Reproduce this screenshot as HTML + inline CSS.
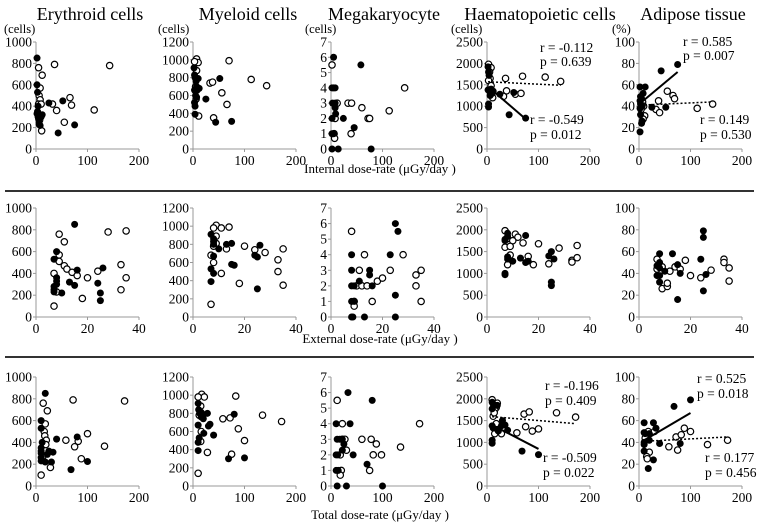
<!DOCTYPE html>
<html><head><meta charset="utf-8"><style>
html,body{margin:0;padding:0;background:#fff;}
svg text{font-family:"Liberation Serif",serif;fill:#000;}
</style></head><body>
<svg id="fig" width="760" height="527" viewBox="0 0 760 527" xmlns="http://www.w3.org/2000/svg" font-family="Liberation Serif, serif">
<g>
<text x="90" y="20" text-anchor="middle" style="font-size:18px">Erythroid cells</text>
<text x="248" y="20" text-anchor="middle" style="font-size:18px">Myeloid cells</text>
<text x="384" y="20" text-anchor="middle" style="font-size:18px">Megakaryocyte</text>
<text x="540" y="20" text-anchor="middle" style="font-size:18px">Haematopoietic cells</text>
<text x="693" y="20" text-anchor="middle" style="font-size:18px">Adipose tissue</text>
</g>
<g style="font-size:12.5px">
<text x="4" y="33">(cells)</text>
<text x="158" y="33">(cells)</text>
<text x="305" y="33">(cells)</text>
<text x="451" y="33">(cells)</text>
<text x="612" y="33">(%)</text>
</g>
<g style="font-size:13px">
<text x="380" y="173" text-anchor="middle">Internal dose-rate (μGy/day )</text>
<text x="380" y="343" text-anchor="middle">External dose-rate (μGy/day )</text>
<text x="380" y="519" text-anchor="middle">Total dose-rate (μGy/day )</text>
</g>
<rect x="5" y="190" width="749" height="2" fill="#333"/>
<rect x="5" y="356" width="749" height="2" fill="#333"/>
<g style="font-size:13.5px">
<text x="540" y="52">r = -0.112</text><text x="540" y="66">p = 0.639</text>
<text x="530" y="124">r = -0.549</text><text x="530" y="139">p = 0.012</text>
<text x="683" y="46">r = 0.585</text><text x="683" y="60">p = 0.007</text>
<text x="700" y="124">r = 0.149</text><text x="700" y="139">p = 0.530</text>
<text x="545" y="390">r = -0.196</text><text x="545" y="405">p = 0.409</text>
<text x="543" y="462">r = -0.509</text><text x="543" y="477">p = 0.022</text>
<text x="697" y="383">r = 0.525</text><text x="697" y="398">p = 0.018</text>
<text x="705" y="462">r = 0.177</text><text x="705" y="477">p = 0.456</text>
</g>
</svg>
<script>
const colX0 = [36,193,331,487,639];
const rowTop = [42,208,377];
const rowBottom = [149,317,486];
const plotW = 103;
const yMaxes = [1000,1200,7,2500,100];
const yTickLabels = [[0,200,400,600,800,1000],[0,200,400,600,800,1000,1200],[0,1,2,3,4,5,6,7],[0,500,1000,1500,2000,2500],[0,20,40,60,80,100]];
const xMaxes = [200,40,200];
const xTickLabels = [[0,100,200],[0,20,40],[0,100,200]];
const panelNames = ['erythroid','myeloid','megakaryocyte','haematopoietic','adipose'];
const rowNames = ['internal','external','total'];

const r1EryF=[[2,850],[2,600],[3,530],[3,350],[2,330],[4,300],[5,280],[6,250],[8,220],[10,300],[12,320],[6,230],[25,430],[52,450],[43,150],[75,225],[4,400]];
const r1EryO=[[5,760],[12,690],[36,790],[143,780],[8,570],[6,500],[8,460],[5,420],[10,420],[32,420],[40,360],[66,480],[69,410],[113,365],[55,250],[11,170],[7,270]];
const r1MyeF=[[2,910],[3,830],[4,800],[6,760],[10,790],[7,700],[3,660],[8,660],[5,600],[7,580],[3,520],[4,480],[4,390],[25,560],[52,790],[44,300],[75,310],[12,680]];
const r1MyeO=[[7,1010],[10,970],[3,980],[7,880],[70,990],[113,780],[143,710],[33,740],[38,750],[56,630],[66,500],[40,350],[11,370],[6,560],[5,700]];
const r1MegF=[[5,6],[2,4],[5,4],[8,4],[3,3],[8,2.7],[9,2.3],[2,2],[24,2],[2,1],[5,1],[2,0],[14,0],[78,0],[58,5.5],[45,1.4],[8,3]];
const r1MegO=[[2,5.5],[12,3],[33,3],[40,3],[60,2.7],[72,2],[75,2],[113,2.5],[143,4],[8,2],[6,1],[7,0.7],[39,1]];
const r1HaeF=[[2,1920],[3,1800],[4,1720],[2,1380],[5,1350],[8,1400],[10,1300],[12,1350],[6,1250],[3,1050],[3,980],[25,1280],[52,1320],[43,800],[75,720]];
const r1HaeO=[[3,1980],[8,1900],[5,1800],[6,1650],[3,1600],[36,1650],[69,1700],[113,1680],[143,1580],[38,1360],[55,1280],[66,1300],[32,1230],[11,1200],[8,1480]];
const r1AdiF=[[2,58],[12,58],[3,49],[8,52],[5,47],[2,45],[3,42],[6,40],[2,38],[3,32],[6,26],[5,24],[2,16],[25,39],[52,39],[43,73],[75,79]];
const r1AdiO=[[7,44],[9,40],[4,37],[11,31],[8,28],[55,54],[66,50],[69,47],[38,45],[33,37],[40,34],[113,38],[143,42]];
const r2EryF=[[15,850],[8,600],[7,530],[16,430],[8,360],[8,330],[8,300],[7,280],[7,250],[7,230],[13,320],[15,290],[10,220],[24,310],[26,450],[25,220],[25,150]];
const r2EryO=[[9,760],[11,690],[28,780],[35,790],[9,570],[9,510],[11,470],[12,440],[14,410],[16,380],[20,360],[24,420],[33,480],[35,360],[33,250],[18,170],[7,400],[7,100],[8,230]];
const r2MyeF=[[7,910],[8,860],[8,830],[8,800],[13,800],[15,810],[26,790],[10,750],[8,670],[24,680],[25,660],[15,580],[16,570],[7,530],[8,480],[7,390],[25,310]];
const r2MyeO=[[9,1010],[8,980],[11,980],[14,990],[9,890],[9,810],[13,750],[20,780],[24,740],[28,710],[35,750],[33,630],[33,500],[35,350],[8,780],[8,600],[7,680],[11,480],[18,370],[7,140]];
const r2MegF=[[25,6],[26,5.5],[8,4],[23,4],[8,3],[15,3],[15,2.7],[11,2.3],[8,2],[9,2],[16,2],[8,1],[9,1],[25,1.4],[8,0],[8.5,0],[13,0],[25,0]];
const r2MegO=[[8,5.5],[13,4],[28,4],[11,3],[23,3],[35,3],[33,2.7],[18,2.3],[20,2.5],[10,2],[12,2],[14,2],[33,2],[9,1],[16,1],[35,1],[9,0.7]];
const r2HaeF=[[8,1920],[7,1780],[7,1750],[15,1870],[8,1380],[8,1330],[10,1280],[13,1350],[15,1250],[16,1280],[24,1400],[25,1500],[26,1330],[7,1000],[7,970],[25,800],[25,720],[8,1850]];
const r2HaeO=[[7,1980],[11,1900],[12,1830],[8,1800],[10,1750],[14,1700],[7,1600],[9,1620],[20,1680],[28,1580],[35,1640],[9,1420],[16,1390],[18,1200],[24,1220],[33,1300],[33,1260],[35,1360],[8,1200]];
const r2AdiF=[[8,58],[13,58],[8,50],[7,47],[8,45],[10,42],[7,38],[8,38],[8,32],[15,48],[16,40],[15,16],[24,53],[25,79],[25,73],[26,39],[25,24]];
const r2AdiO=[[7,53],[9,46],[7,44],[12,42],[14,46],[16,44],[9,26],[11,28],[11,31],[18,52],[20,38],[24,36],[28,43],[33,53],[33,50],[35,45],[35,33]];
const r3EryF=[[18,850],[10,600],[10,530],[10,350],[10,320],[10,300],[10,260],[10,230],[18,220],[22,290],[25,320],[33,310],[30,220],[40,430],[68,150],[80,450],[100,225],[12,400]];
const r3EryO=[[14,760],[22,690],[72,790],[172,780],[18,570],[16,500],[17,460],[20,420],[19,380],[58,420],[82,410],[75,360],[100,480],[133,365],[88,250],[28,170],[10,100],[13,270]];
const r3MyeF=[[10,910],[11,840],[13,800],[16,810],[20,780],[28,800],[16,760],[10,670],[20,740],[30,660],[33,680],[21,580],[10,480],[12,530],[10,390],[40,560],[80,790],[69,300],[100,310]];
const r3MyeO=[[17,1010],[22,980],[10,980],[15,880],[83,990],[135,780],[172,710],[58,740],[72,750],[88,630],[100,500],[75,350],[28,370],[16,600],[12,780],[15,490],[10,140]];
const r3MegF=[[33,6],[80,5.5],[10,4],[37,4],[12,3],[17,3],[25,2.7],[22,2.3],[10,2],[13,2],[43,2],[10,1],[14,1],[70,1.4],[12,0],[30,0],[100,0],[22,3]];
const r3MegO=[[12,5.5],[22,4],[172,4],[22,3],[60,3],[78,3],[88,2.7],[30,2.3],[135,2.5],[18,2],[82,2],[98,2],[20,1],[75,1],[18,0.7],[27,3]];
const r3HaeF=[[10,1920],[12,1880],[15,1850],[10,1770],[10,1380],[12,1330],[20,1300],[22,1260],[28,1380],[30,1500],[35,1400],[40,1280],[10,1050],[10,980],[68,800],[100,720],[20,1850]];
const r3HaeO=[[10,1980],[20,1900],[18,1800],[15,1750],[12,1600],[14,1680],[72,1650],[82,1700],[135,1680],[172,1580],[75,1360],[88,1260],[100,1310],[58,1220],[28,1200],[18,1430],[15,1200]];
const r3AdiF=[[10,58],[28,58],[10,49],[12,48],[20,48],[10,40],[10,38],[10,32],[20,42],[33,53],[40,39],[28,24],[18,16],[68,73],[100,79],[80,39]];
const r3AdiO=[[18,50],[15,45],[12,44],[20,31],[15,27],[16,25],[30,50],[58,36],[72,45],[75,33],[82,47],[88,53],[100,50],[133,38],[172,42]];

const trendRows=[0,0,0,0,2,2,2,2];
const trendCols=[3,3,4,4,3,3,4,4];
const trendX1=[2,3,3,3,10,10,10,10];
const trendY1=[1570,1450,43,41,1590,1400,42,41];
const trendX2=[143,75,75,143,172,100,100,172];
const trendY2=[1490,700,72,44,1430,850,67,45];
const trendDotted=[1,0,0,1,1,0,0,1];

const filled=[[r1EryF,r1MyeF,r1MegF,r1HaeF,r1AdiF],[r2EryF,r2MyeF,r2MegF,r2HaeF,r2AdiF],[r3EryF,r3MyeF,r3MegF,r3HaeF,r3AdiF]];
const open=[[r1EryO,r1MyeO,r1MegO,r1HaeO,r1AdiO],[r2EryO,r2MyeO,r2MegO,r2HaeO,r2AdiO],[r3EryO,r3MyeO,r3MegO,r3HaeO,r3AdiO]];

const NS='http://www.w3.org/2000/svg';
const svg=document.getElementById('fig');
function mk(tag,attrs,parent){const e=document.createElementNS(NS,tag);for(const k in attrs)e.setAttribute(k,attrs[k]);parent.appendChild(e);return e;}
function xs(r,c,v){return colX0[c]+v/xMaxes[r]*plotW;}
function ys(r,c,v){return rowBottom[r]-v/yMaxes[c]*(rowBottom[r]-rowTop[r]);}
const TF='font-size:13.5px;font-family:"Liberation Serif",serif';

for(let r=0;r<3;r++){for(let c=0;c<5;c++){
  const g=mk('g',{},svg);
  
  
  const x0=colX0[c],yb=rowBottom[r];
  const ax=mk('line',{x1:x0,y1:rowTop[r],x2:x0,y2:yb,stroke:'#999','stroke-width':1},g);
  
  
  const axx=mk('line',{x1:x0,y1:yb,x2:x0+plotW,y2:yb,stroke:'#999','stroke-width':1},g);
  
  
  yTickLabels[c].forEach(v=>{const y=ys(r,c,v);
    mk('line',{x1:x0-3,y1:y,x2:x0,y2:y,stroke:'#999'},g);
    const t=mk('text',{x:x0-4,y:y+4.5,'text-anchor':'end',style:TF},g);t.textContent=v;
    
    });
  xTickLabels[r].forEach(v=>{const x=xs(r,c,v);
    mk('line',{x1:x,y1:yb,x2:x,y2:yb+3,stroke:'#999'},g);
    const t=mk('text',{x:x,y:yb+16,'text-anchor':'middle',style:TF},g);t.textContent=v;
    
    });
  open[r][c].forEach(p=>{const m=mk('circle',{cx:xs(r,c,p[0]),cy:ys(r,c,p[1]),r:3.2,fill:'#fff',stroke:'#000','stroke-width':1.2},g);
    
    });
  filled[r][c].forEach(p=>{const m=mk('circle',{cx:xs(r,c,p[0]),cy:ys(r,c,p[1]),r:3.5,fill:'#000'},g);
    
    });
}}
for(let i=0;i<trendRows.length;i++){const r=trendRows[i],c=trendCols[i];
  const l=mk('line',{x1:xs(r,c,trendX1[i]),y1:ys(r,c,trendY1[i]),x2:xs(r,c,trendX2[i]),y2:ys(r,c,trendY2[i]),stroke:'#000','stroke-width':trendDotted[i]?1.5:2,'stroke-dasharray':trendDotted[i]?'2,2':'none'},svg);
  
  
}
</script>
</body></html>
